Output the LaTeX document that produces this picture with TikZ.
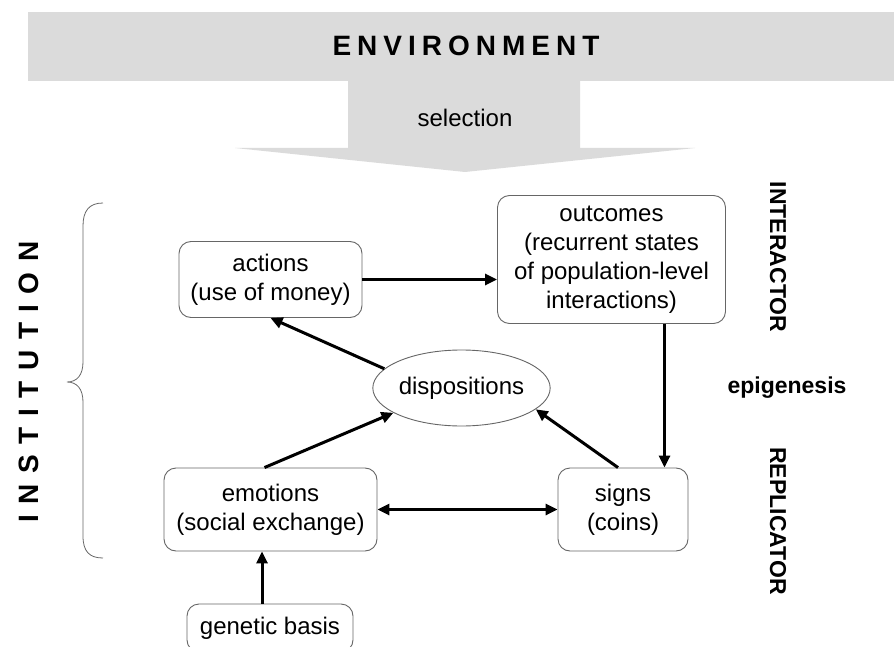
\documentclass[tikz,border=0pt]{standalone}
\usepackage{fontspec}
\setmainfont{Liberation Sans}
\usetikzlibrary{arrows.meta, shapes.geometric}

\makeatletter
\newcommand\spreadword[2]{\def\spr@gap{#1}\@tfor\spr@c:=#2\do{\spr@c\kern\spr@gap}\unkern}
\makeatother

\begin{document}
\begin{tikzpicture}[x=1pt, y=-1pt,
		font=\fontsize{24}{29}\selectfont,
		box/.style={draw=black!60, line width=0.9pt, rounded corners=12pt, fill=white, align=center, inner sep=2pt},
		flow/.style={line width=3pt, -{Triangle[length=12pt, width=11pt]}},
		sidelabel/.style={font=\fontsize{23}{29}\selectfont\bfseries}]
		\def\banner{(28,12) rectangle (900,81)};
		\def\selectionarrow{(348,81) -- (580,81) -- (580,148) -- (695,148) -- (465,172) -- (235,148) -- (348,148) -- cycle};
		\def\institutionbrace{(103,203) .. controls (89,203) and (83,211) .. (83,226) -- (83,362) .. controls (83,375) and (77,382) .. (67,382) .. controls (77,382) and (83,389) .. (83,402) -- (83,536) .. controls (83,551) and (89,558) .. (103,558)};
		
		\useasboundingbox (0,0) rectangle (894,647);
		
		\begin{scope}
			\fill [black!14] \banner;
			\fill [black!14] \selectionarrow;
			\draw [black!60, line width=0.8pt] \institutionbrace;
		\end{scope}
		
		\begin{scope}
			\node (env) at (466,46) {\fontsize{28}{30}\selectfont\bfseries\spreadword{6pt}{ENVIRONMENT}};
			\node (sel) at (465,118) {selection};
			\node (inst) [rotate=90] at (29,382) {\fontsize{28}{30}\selectfont\bfseries\spreadword{10.5pt}{INSTITUTION}};
			\node (inter) [sidelabel, rotate=-90] at (778,257) {INTERACTOR};
			\node (epi) [sidelabel] at (787,388) {epigenesis};
			\node (repl) [sidelabel, rotate=-90] at (778,521) {REPLICATOR};
		\end{scope}
		
		\begin{scope}
			\node (actions) [box, minimum width=183pt, minimum height=76pt] at (270.5,279.5) {actions\\(use of money)};
			\node (outcomes) [box, minimum width=228pt, minimum height=128pt] at (611.5,259.5) {outcomes\\(recurrent states\\of population-level\\interactions)};
			\node (disp) [draw=black!60, line width=0.9pt, ellipse, fill=white, inner sep=0pt, minimum width=139pt, minimum height=76pt] at (461.5,388) {dispositions};
			\node (emotions) [box, minimum width=213pt, minimum height=83pt] at (270.5,509.5) {emotions\\(social exchange)};
			\node (signs) [box, minimum width=130pt, minimum height=83pt] at (623,509.5) {signs\\(coins)};
			\node (genetic) [box, minimum width=166pt, minimum height=48pt] at (270,628) {genetic basis};
		\end{scope}
		
		\begin{scope}
			\draw [flow] (actions.east) -- (outcomes.west |- actions.east);
			\draw [flow] ([xshift=53pt]outcomes.south) -- ([xshift=53pt]outcomes.south |- signs.north);
			\draw [flow] (disp.166) -- (actions.south);
			\draw [flow] ([xshift=-6pt]emotions.north) -- (disp.200);
			\draw [flow] ([xshift=-5pt]signs.north) -- (disp.-16);
			\draw [flow, {Triangle[length=12pt, width=11pt]}-{Triangle[length=12pt, width=11pt]}] (emotions.east) -- (signs.west);
			\draw [flow] ([xshift=-8pt]genetic.north) -- ([xshift=-8pt]genetic.north |- emotions.south);
		\end{scope}
	\end{tikzpicture}
\end{document}
